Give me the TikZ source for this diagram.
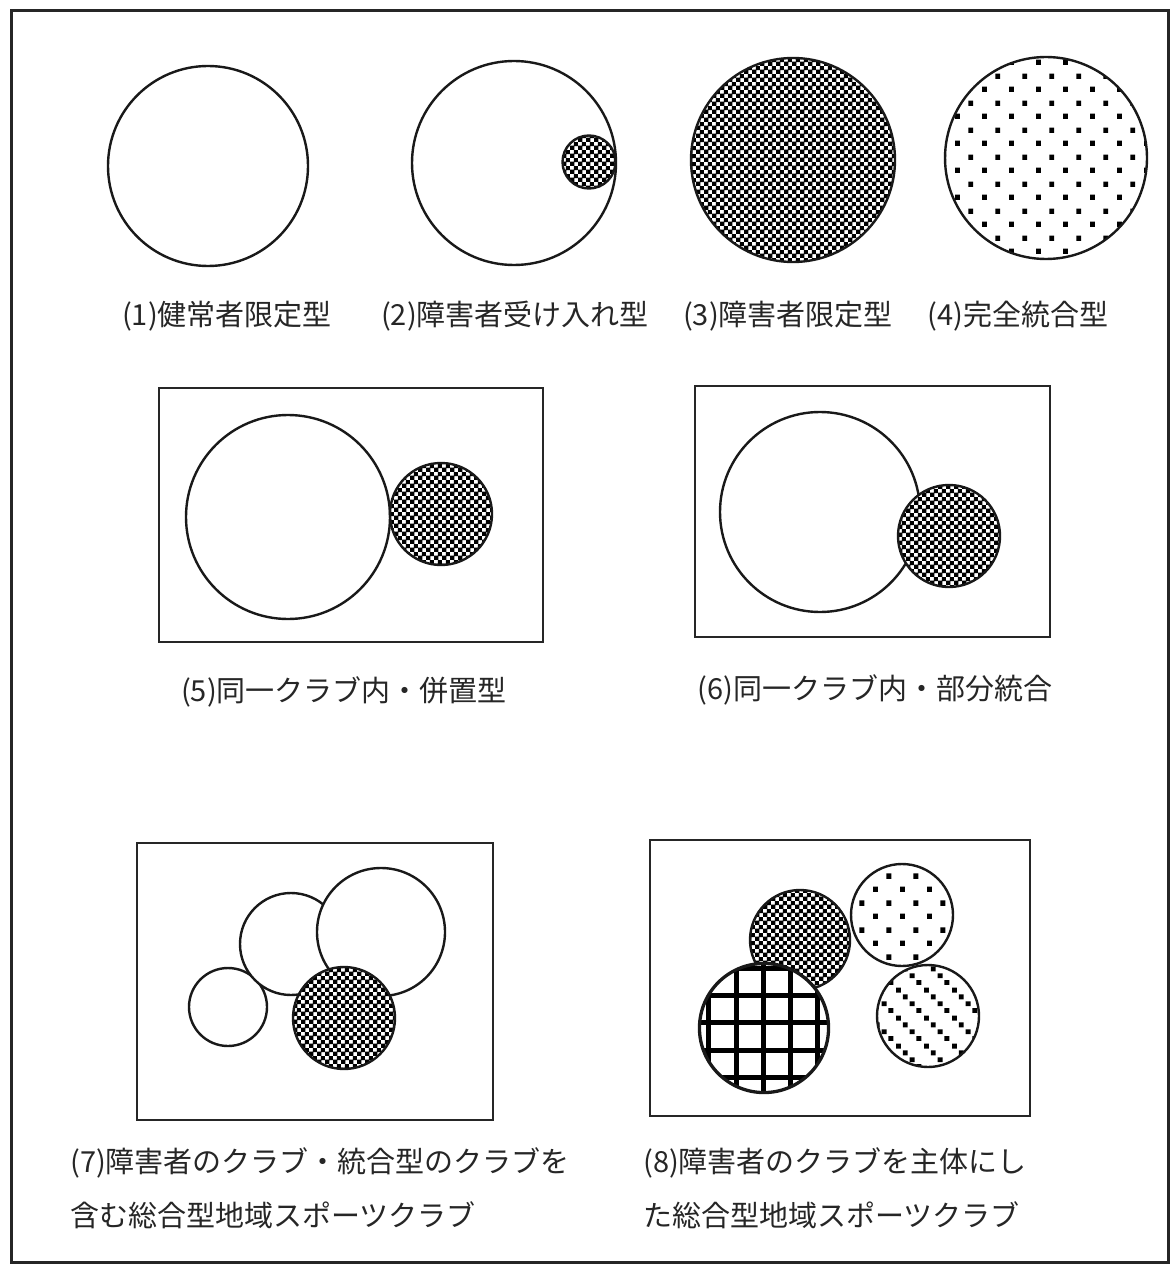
\documentclass[tikz,border=0pt]{standalone}
\usepackage{fontspec}
\setmainfont{Noto Sans CJK JP}
\usetikzlibrary{patterns}
\pgfdeclarepatternformonly{checker}{\pgfqpoint{0pt}{0pt}}{\pgfqpoint{8.4pt}{8.4pt}}{\pgfqpoint{8.4pt}{8.4pt}}{%
  \pgfpathrectangle{\pgfqpoint{0pt}{0pt}}{\pgfqpoint{4.6pt}{4.6pt}}%
  \pgfpathrectangle{\pgfqpoint{4.2pt}{4.2pt}}{\pgfqpoint{4.2pt}{4.2pt}}%
  \pgfusepath{fill}}
\pgfdeclarepatternformonly{squaredots}{\pgfqpoint{0pt}{0pt}}{\pgfqpoint{27.3pt}{26.6pt}}{\pgfqpoint{27.3pt}{26.6pt}}{%
  \pgfpathrectangle{\pgfqpoint{0pt}{0pt}}{\pgfqpoint{5pt}{5.4pt}}%
  \pgfpathrectangle{\pgfqpoint{13.65pt}{13.3pt}}{\pgfqpoint{5pt}{5.4pt}}%
  \pgfusepath{fill}}
\pgfdeclarepatternformonly{diagdots}{\pgfqpoint{0pt}{0pt}}{\pgfqpoint{28pt}{28pt}}{\pgfqpoint{28pt}{28pt}}{%
  \pgfpathrectangle{\pgfqpoint{0pt}{21pt}}{\pgfqpoint{5pt}{5pt}}%
  \pgfpathrectangle{\pgfqpoint{7pt}{14pt}}{\pgfqpoint{5pt}{5pt}}%
  \pgfpathrectangle{\pgfqpoint{14pt}{7pt}}{\pgfqpoint{5pt}{5pt}}%
  \pgfpathrectangle{\pgfqpoint{21pt}{0pt}}{\pgfqpoint{5pt}{5pt}}%
  \pgfusepath{fill}}
\begin{document}
\begin{tikzpicture}[x=1pt,y=-1pt,
  frame/.style={draw=black!85, line width=3pt},
  box/.style={draw=black!85, line width=2.6pt},
  club/.style={circle, draw=black!90, line width=2.4pt, inner sep=0pt, minimum size=#1, fill=white},
  patclub/.style 2 args={circle, draw=black!90, line width=2.4pt, inner sep=0pt, minimum size=#1,
     preaction={fill=white}, pattern=#2, pattern color=black},
  lbl/.style={inner sep=0pt, text=black!85, font=\fontsize{29pt}{34pt}\selectfont},
  gridline/.style={line width=5pt, black}
]
\useasboundingbox (0,0) rectangle (1171,1265);
\fill[white] (0,0) rectangle (1171,1265);
% outer frame
\draw[frame] (11,11) rectangle (1168,1262);

% (1)
\node[club=200pt] (c1) at (208,166) {};
\node[lbl] (l1) at (227,316) {(1)健常者限定型};
% (2)
\node[club=204pt] (c2) at (514,163) {};
\node[patclub={53pt}{checker}] (c2s) at (589,162) {};
\node[lbl] (l2) at (515,316) {(2)障害者受け入れ型};
% (3)
\node[patclub={204pt}{checker}] (c3) at (793,160) {};
\node[lbl] (l3) at (788,316) {(3)障害者限定型};
% (4)
\node[patclub={202pt}{squaredots}] (c4) at (1046,158) {};
\node[lbl] (l4) at (1018,316) {(4)完全統合型};

% (5)
\node[box, minimum width=384pt, minimum height=254pt, inner sep=0pt] (r5) at (351,515) {};
\node[club=204pt] (c5a) at (288,517) {};
\node[patclub={102pt}{checker}] (c5b) at (441,514) {};
\node[lbl] (l5) at (344,692) {(5)同一クラブ内・併置型};

% (6)
\node[box, minimum width=355pt, minimum height=251pt, inner sep=0pt] (r6) at (872.5,511.5) {};
\node[club=200pt] (c6a) at (820,512) {};
\node[patclub={102pt}{checker}] (c6b) at (949,536) {};
\node[lbl] (l6) at (875,690) {(6)同一クラブ内・部分統合};

% (7)
\node[box, minimum width=356pt, minimum height=277pt, inner sep=0pt] (r7) at (315,981.5) {};
\node[club=78pt] (c7a) at (228,1007) {};
\node[club=102pt] (c7b) at (291,944) {};
\node[club=128pt] (c7c) at (381,932) {};
\node[patclub={102pt}{checker}] (c7d) at (344,1018) {};
\node[lbl, anchor=west] (l7a) at (70,1163) {(7)障害者のクラブ・統合型のクラブを};
\node[lbl, anchor=west] (l7b) at (70,1215) {含む総合型地域スポーツクラブ};

% (8)
\node[box, minimum width=380pt, minimum height=276pt, inner sep=0pt] (r8) at (840,978) {};
\node[patclub={100pt}{checker}] (c8a) at (800,940) {};
\node[patclub={102pt}{squaredots}] (c8b) at (902,915) {};
\node[patclub={102pt}{diagdots}] (c8d) at (928,1016) {};
\node[club=130pt] (c8c) at (764,1028) {};
\begin{scope}
  \clip (c8c.center) circle[radius=64];
  \foreach \gx in {708,736,763,790,817} \draw[gridline] (\gx,955) -- (\gx,1100);
  \foreach \gy in {968,995,1022,1050,1077} \draw[gridline] (690,\gy) -- (840,\gy);
\end{scope}
\draw[draw=black!90, line width=2.4pt] (c8c.center) circle[radius=64.1];
\node[lbl, anchor=west] (l8a) at (643,1163) {(8)障害者のクラブを主体にし};
\node[lbl, anchor=west] (l8b) at (643,1215) {た総合型地域スポーツクラブ};
\end{tikzpicture}
\end{document}
